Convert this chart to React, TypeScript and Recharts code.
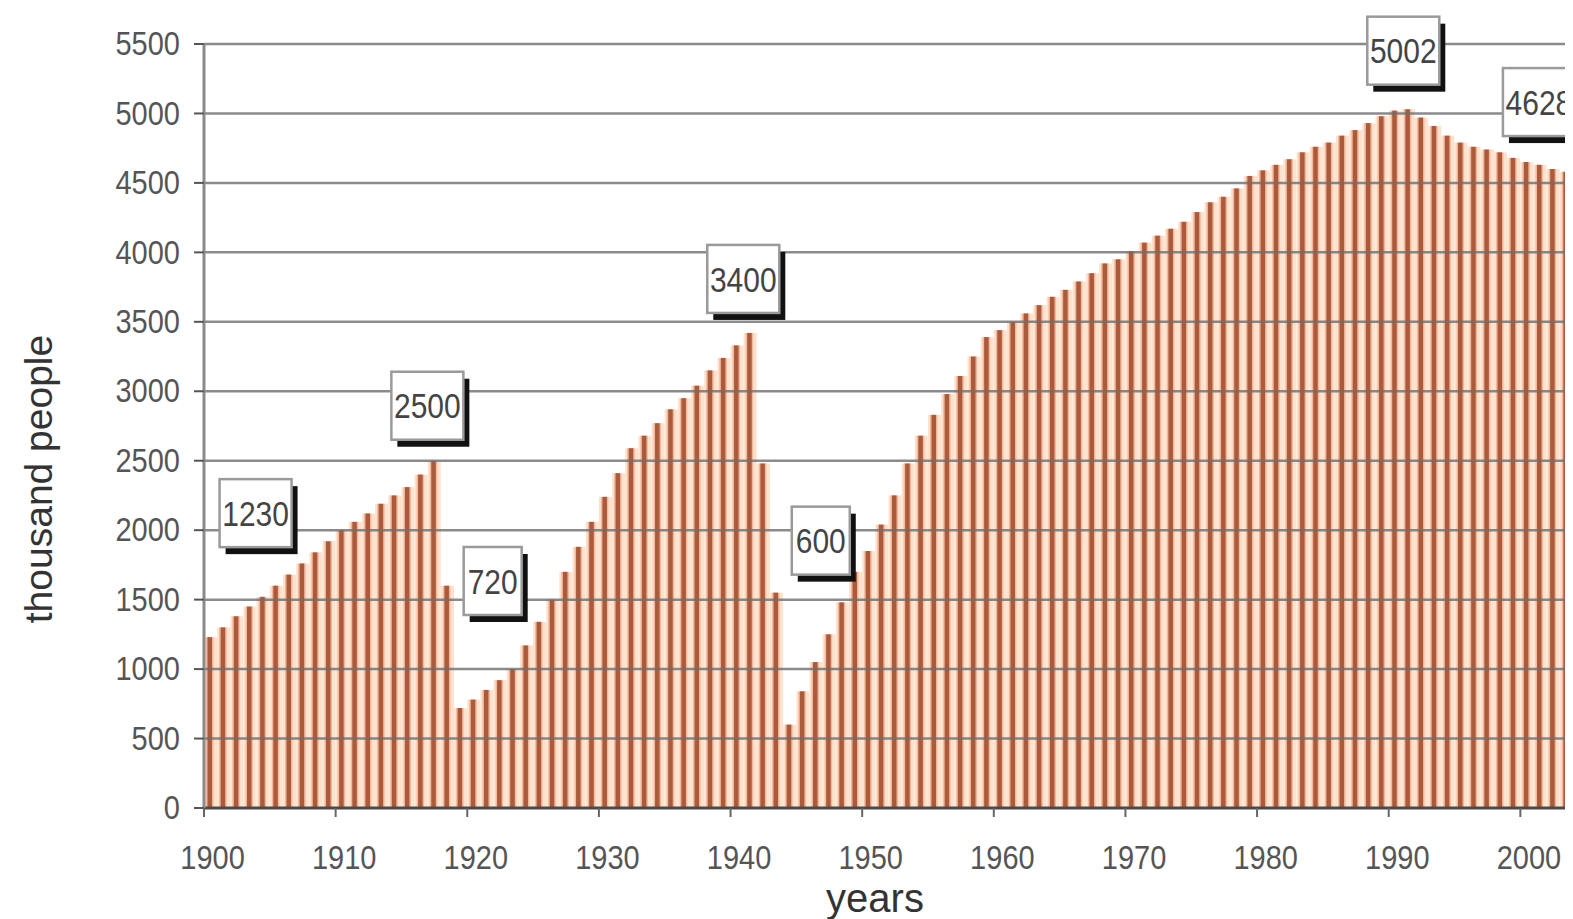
import React from 'react';
import { BarChart, Bar, XAxis, YAxis, ReferenceLine, ReferenceDot } from 'recharts';

const years = [
  1900, 1901, 1902, 1903, 1904, 1905, 1906, 1907, 1908, 1909,
  1910, 1911, 1912, 1913, 1914, 1915, 1916, 1917, 1918, 1919,
  1920, 1921, 1922, 1923, 1924, 1925, 1926, 1927, 1928, 1929,
  1930, 1931, 1932, 1933, 1934, 1935, 1936, 1937, 1938, 1939,
  1940, 1941, 1942, 1943, 1944, 1945, 1946, 1947, 1948, 1949,
  1950, 1951, 1952, 1953, 1954, 1955, 1956, 1957, 1958, 1959,
  1960, 1961, 1962, 1963, 1964, 1965, 1966, 1967, 1968, 1969,
  1970, 1971, 1972, 1973, 1974, 1975, 1976, 1977, 1978, 1979,
  1980, 1981, 1982, 1983, 1984, 1985, 1986, 1987, 1988, 1989,
  1990, 1991, 1992, 1993, 1994, 1995, 1996, 1997, 1998, 1999,
  2000, 2001, 2002, 2003,
];

const population = [
  1230, 1300, 1380, 1450, 1520, 1600, 1680, 1760, 1840, 1920,
  2000, 2060, 2120, 2190, 2250, 2310, 2400, 2500, 1600, 720,
  780, 850, 920, 1000, 1170, 1340, 1500, 1700, 1880, 2060,
  2240, 2410, 2590, 2680, 2770, 2870, 2950, 3040, 3150, 3240,
  3330, 3420, 2480, 1550, 600, 840, 1050, 1250, 1480, 1700,
  1850, 2040, 2250, 2480, 2680, 2830, 2980, 3110, 3250, 3390,
  3440, 3500, 3560, 3620, 3680, 3730, 3790, 3850, 3920, 3950,
  4010, 4070, 4120, 4170, 4220, 4290, 4360, 4400, 4460, 4550,
  4590, 4630, 4670, 4720, 4760, 4790, 4840, 4880, 4930, 4980,
  5020, 5030, 4970, 4910, 4840, 4790, 4760, 4740, 4720, 4680,
  4650, 4630, 4600, 4580,
];

const yTicks = [0, 500, 1000, 1500, 2000, 2500, 3000, 3500, 4000, 4500, 5000, 5500];
const xTicks = [1900, 1910, 1920, 1930, 1940, 1950, 1960, 1970, 1980, 1990, 2000];

const annotationYears = [1900, 1917, 1919, 1941, 1944, 1990, 2000];
const annotationTexts = ['1230', '2500', '720', '3400', '600', '5002', '4628'];

// layout only: box centre offset from the bar top (px)
const boxOffsets: Record<number, [number, number]> = {
  1900: [45, -124],
  1917: [-7, -55],
  1919: [32, -127],
  1941: [-7, -54],
  1944: [31, -184],
  1990: [8, -60],
  2000: [12, -60],
};

const data = years.map((year, i) => ({ year, value: population[i] }));

const FONT = '"Liberation Sans", Arial, sans-serif';

const StripedBar = (props: any) => {
  const { x, y, width, height } = props;
  if (!height || height <= 0) return null;
  const sx = x + width * 0.27;
  return (
    <g>
      <rect x={x} y={y} width={width} height={height} fill="#fde2cd" />
      <rect x={sx - 1.5} y={y} width={7.5} height={height} fill="#f3b79b" />
      <rect x={sx} y={y} width={4.5} height={height} fill="#ab5a3b" />
    </g>
  );
};

const XTick = (props: any) => {
  const { x, y, payload } = props;
  const off = payload && typeof payload.offset === 'number' ? payload.offset : 6.6;
  const x0 = x - off;
  const ty = y + 50;
  return (
    <g>
      <line x1={x0} y1={y} x2={x0} y2={y + 9} stroke="#666" strokeWidth={2} />
      <text
        x={x + 2}
        y={ty}
        textAnchor="middle"
        dominantBaseline="central"
        fontFamily={FONT}
        fontSize={29}
        fill="#555"
        transform={`translate(0 ${ty}) scale(1 1.15) translate(0 ${-ty})`}
      >
        {payload.value}
      </text>
    </g>
  );
};

const YTick = (props: any) => {
  const { x, y, payload } = props;
  return (
    <text
      x={x}
      y={y}
      textAnchor="end"
      dominantBaseline="central"
      fontFamily={FONT}
      fontSize={29}
      fill="#555"
      transform={`translate(0 ${y}) scale(1 1.15) translate(0 ${-y})`}
    >
      {payload.value}
    </text>
  );
};

const makeBox = (text: string, dx: number, dy: number) => (props: any) => {
  const { cx, cy } = props;
  const w = text.length === 3 ? 58 : 72;
  const h = 68;
  const bx = cx + dx - w / 2;
  const by = cy + dy - h / 2;
  const ty = by + h / 2 + 1;
  return (
    <g>
      <rect x={bx + 6} y={by + 7} width={w} height={h} fill="#111" />
      <rect x={bx} y={by} width={w} height={h} fill="#fff" stroke="#9a9a9a" strokeWidth={2.5} />
      <text
        x={bx + w / 2}
        y={ty}
        textAnchor="middle"
        dominantBaseline="central"
        fontFamily={FONT}
        fontSize={30}
        fill="#444"
        transform={`translate(0 ${ty}) scale(1 1.15) translate(0 ${-ty})`}
      >
        {text}
      </text>
    </g>
  );
};

export default function App() {
  return (
    <div style={{ fontFamily: FONT, width: 1565, height: 911 }}>
      <BarChart
        width={1565}
        height={911}
        data={data}
        margin={{ top: 36, right: 0, bottom: 0, left: 0 }}
        barCategoryGap={0}
        barGap={0}
      >
        <XAxis
          dataKey="year"
          type="category"
          ticks={xTicks}
          interval={0}
          height={111}
          tickLine={false}
          tickSize={0}
          tickMargin={0}
          tick={<XTick />}
          axisLine={{ stroke: '#4a4a4a', strokeWidth: 3 }}
          label={{
            content: (p: any) => {
              const vb = p.viewBox || { x: 196, y: 800, width: 1369, height: 111 };
              return (
                <text
                  x={vb.x + 671}
                  y={vb.y + 90}
                  textAnchor="middle"
                  dominantBaseline="central"
                  fontFamily={FONT}
                  fontSize={40}
                  fill="#333"
                >
                  years
                </text>
              );
            },
          }}
        />
        <YAxis
          type="number"
          domain={[0, 5500]}
          ticks={yTicks}
          interval={0}
          width={196}
          tickSize={10}
          tickMargin={14}
          tickLine={{ stroke: '#555', strokeWidth: 2 }}
          axisLine={{ stroke: '#8a8a8a', strokeWidth: 3 }}
          tick={<YTick />}
          label={{
            content: (p: any) => {
              const vb = p.viewBox || { x: 0, y: 36, width: 196, height: 764 };
              const lx = vb.x + 30;
              const ly = vb.y + vb.height / 2 + 53;
              return (
                <text
                  x={lx}
                  y={ly}
                  textAnchor="middle"
                  dominantBaseline="central"
                  transform={`rotate(-90 ${lx} ${ly})`}
                  fontFamily={FONT}
                  fontSize={39}
                  fill="#333"
                >
                  thousand people
                </text>
              );
            },
          }}
        />
        <Bar dataKey="value" isAnimationActive={false} shape={<StripedBar />} />
        {yTicks.slice(1).map((t) => (
          <ReferenceLine
            key={t}
            y={t}
            stroke="#6e6e6e"
            strokeOpacity={0.8}
            strokeWidth={2.5}
            ifOverflow="extendDomain"
          />
        ))}
        {annotationYears.map((yr, i) => {
          const [dx, dy] = boxOffsets[yr];
          const v = population[years.indexOf(yr)];
          return (
            <ReferenceDot
              key={yr}
              x={yr}
              y={v}
              r={1}
              ifOverflow="visible"
              shape={makeBox(annotationTexts[i], dx, dy)}
            />
          );
        })}
      </BarChart>
    </div>
  );
}
